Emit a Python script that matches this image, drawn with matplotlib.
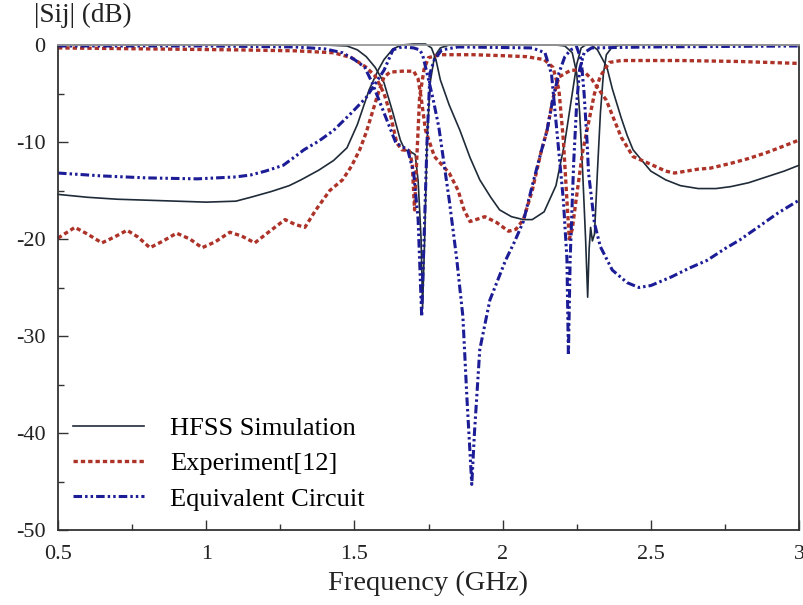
import matplotlib
matplotlib.use('Agg')
import matplotlib.pyplot as plt
from matplotlib.ticker import MultipleLocator

# curves: (frequency GHz, |Sij| dB)
hfss_s11_f = [0.50, 0.60, 0.70, 0.80, 0.90, 1.00, 1.10, 1.15, 1.22, 1.28, 1.32, 1.38, 1.43, 1.475,
              1.51, 1.55, 1.58, 1.60, 1.63, 1.66, 1.70, 1.74, 1.76, 1.775, 1.79, 1.82, 1.856, 1.89,
              1.923, 1.96, 1.99, 2.03, 2.07, 2.10, 2.14, 2.18, 2.21, 2.235, 2.25, 2.265, 2.28, 2.30,
              2.32, 2.352, 2.37, 2.40, 2.42, 2.44, 2.50, 2.55, 2.60, 2.66, 2.72, 2.77, 2.83, 2.89,
              2.95, 3.00]
hfss_s11_db = [-15.4, -15.7, -15.9, -16.0, -16.1, -16.2, -16.1, -15.7, -15.1, -14.5, -13.9, -12.9, -11.9, -10.6,
               -8.2, -4.6, -2.6, -1.5, -0.4, 0.0, 0.1, 0.1, -0.3, -1.5, -3.6, -6.2, -8.8, -11.6,
               -13.9, -15.7, -17.0, -17.7, -18.0, -18.0, -17.2, -14.5, -10.0, -5.0, -2.0, -0.3, 0.0, 0.0,
               -0.5, -2.3, -4.5, -7.5, -9.3, -10.8, -13.0, -13.9, -14.5, -14.8, -14.8, -14.6, -14.2, -13.6,
               -13.0, -12.4]

hfss_s21_f = [0.50, 1.00, 1.40, 1.475, 1.51, 1.54, 1.57, 1.60, 1.63, 1.655, 1.67, 1.69, 1.705, 1.715,
              1.725, 1.73, 1.737, 1.745, 1.755, 1.77, 1.79, 1.82, 2.00, 2.18, 2.21, 2.235, 2.25, 2.26,
              2.27, 2.28, 2.287, 2.292, 2.297, 2.303, 2.31, 2.32, 2.33, 2.34, 2.35, 2.37, 2.40, 3.00]
hfss_s21_db = [0.0, 0.0, 0.0, -0.1, -0.5, -1.2, -2.3, -3.9, -7.0, -9.8, -10.8, -11.0, -11.3, -14.0,
               -20.0, -27.0, -20.0, -10.0, -4.0, -1.2, -0.3, 0.0, 0.0, 0.0, -0.1, -0.8, -2.9, -7.0,
               -13.0, -20.0, -26.0, -21.0, -18.8, -20.2, -19.5, -13.0, -7.0, -3.0, -1.0, -0.2, 0.0, 0.0]

exp_s11_f = [0.50, 0.557, 0.60, 0.648, 0.69, 0.733, 0.77, 0.81, 0.855, 0.90, 0.945, 0.986, 1.03, 1.08,
             1.12, 1.164, 1.21, 1.266, 1.30, 1.333, 1.37, 1.417, 1.46, 1.49, 1.518, 1.54, 1.56, 1.58,
             1.60, 1.62, 1.66, 1.70, 1.715, 1.725, 1.74, 1.77, 1.82, 1.85, 1.87, 1.89, 1.94, 1.98,
             2.02, 2.045, 2.07, 2.10, 2.13, 2.15, 2.17, 2.19, 2.23, 2.26, 2.28, 2.30, 2.35, 2.40,
             2.44, 2.50, 2.55, 2.58, 2.62, 2.66, 2.70, 2.77, 2.83, 2.89, 2.95, 3.00]
exp_s11_db = [-19.9, -18.8, -19.5, -20.4, -19.8, -19.1, -19.8, -20.9, -20.2, -19.4, -20.0, -20.9, -20.3, -19.3,
              -19.7, -20.4, -19.3, -18.0, -18.5, -18.8, -17.0, -15.0, -13.9, -12.5, -10.8, -9.0, -7.0, -5.0,
              -3.3, -2.8, -2.7, -2.7, -3.5, -5.4, -8.8, -11.5, -13.2, -15.0, -17.0, -18.2, -17.7, -18.3,
              -19.2, -19.0, -18.0, -15.0, -11.0, -8.8, -5.5, -3.3, -2.6, -2.6, -2.9, -3.5, -5.7, -9.5,
              -11.5, -12.3, -13.0, -13.2, -13.0, -12.8, -12.7, -12.2, -11.7, -11.1, -10.4, -9.8]

exp_s21_f = [0.50, 0.80, 1.10, 1.30, 1.43, 1.49, 1.54, 1.57, 1.60, 1.62, 1.643, 1.66, 1.685, 1.695,
             1.703, 1.71, 1.72, 1.735, 1.75, 1.79, 1.90, 2.00, 2.08, 2.14, 2.17, 2.19, 2.205, 2.215,
             2.225, 2.235, 2.25, 2.27, 2.29, 2.31, 2.33, 2.36, 2.40, 2.60, 2.80, 3.00]
exp_s21_db = [-0.3, -0.4, -0.5, -0.6, -0.8, -1.3, -2.3, -3.2, -5.0, -7.0, -10.1, -10.8, -10.9, -12.2,
              -17.0, -12.0, -5.4, -2.5, -1.3, -1.0, -1.0, -1.1, -1.2, -1.5, -2.3, -4.6, -9.8, -15.0,
              -20.0, -19.0, -15.5, -11.0, -8.0, -5.0, -3.2, -1.8, -1.6, -1.6, -1.7, -1.9]

eq_s11_f = [0.50, 0.65, 0.80, 0.97, 1.10, 1.15, 1.20, 1.26, 1.30, 1.33, 1.38, 1.43, 1.49, 1.54,
            1.57, 1.60, 1.63, 1.66, 1.70, 1.72, 1.73, 1.745, 1.765, 1.785, 1.82, 1.845, 1.866, 1.88,
            1.89, 1.896, 1.905, 1.923, 1.957, 2.01, 2.04, 2.07, 2.10, 2.13, 2.15, 2.17, 2.19, 2.21,
            2.23, 2.25, 2.265, 2.275, 2.285, 2.29, 2.31, 2.33, 2.37, 2.42, 2.46, 2.50, 2.57, 2.63,
            2.69, 2.75, 2.80, 2.87, 2.93, 3.00]
eq_s11_db = [-13.2, -13.5, -13.7, -13.8, -13.6, -13.4, -13.0, -12.4, -11.5, -10.8, -9.9, -8.8, -7.0, -5.4,
             -4.0, -2.6, -0.5, -0.2, -0.3, -0.5, -1.0, -2.9, -5.5, -8.5, -16.0, -22.0, -28.0, -36.6,
             -42.0, -45.3, -40.0, -31.4, -26.3, -22.2, -20.3, -18.2, -14.5, -11.0, -8.8, -5.5, -2.9, -1.2,
             -0.5, -0.2, -1.5, -5.0, -10.0, -13.2, -18.4, -20.8, -23.2, -24.5, -25.0, -24.8, -23.9, -23.0,
             -22.2, -21.0, -20.1, -18.6, -17.3, -16.0]

eq_s21_f = [0.50, 1.00, 1.30, 1.40, 1.46, 1.50, 1.535, 1.56, 1.60, 1.64, 1.68, 1.70, 1.715, 1.727,
            1.735, 1.745, 1.755, 1.77, 1.795, 1.85, 2.10, 2.143, 2.165, 2.186, 2.205, 2.217, 2.222, 2.228,
            2.24, 2.25, 2.26, 2.275, 2.30, 2.50, 3.00]
eq_s21_db = [-0.1, -0.1, -0.2, -0.4, -0.8, -1.5, -2.3, -3.9, -7.0, -10.1, -10.8, -13.2, -18.0, -28.0,
             -20.0, -10.0, -2.9, -1.5, -0.5, -0.2, -0.3, -0.8, -3.0, -9.8, -16.0, -22.0, -32.0, -22.0,
             -12.0, -6.0, -2.5, -0.8, -0.3, -0.2, -0.1]

x_ticks = [0.5, 1, 1.5, 2, 2.5, 3]
x_labels = ['0.5', '1', '1.5', '2', '2.5', '3']
y_ticks = [0, -10, -20, -30, -40, -50]
y_labels = ['0', '-10', '-20', '-30', '-40', '-50']

plt.rcParams['font.family'] = ['Liberation Serif', 'DejaVu Serif']
plt.rcParams['axes.unicode_minus'] = False

solid_col = '#1f2b38'
exp_col = '#ad3329'
eq_col = '#1c1c96'
exp_style = (0, (1.3, 0.9))
eq_style = (0, (2.8, 1.0, 0.8, 1.0, 0.8, 1.0))

fig = plt.figure(figsize=(8.04, 6.05), dpi=100)
ax = fig.add_axes([58 / 804, 75 / 605, 741 / 804, 485 / 605])

ax.plot(hfss_s11_f, hfss_s11_db, color=solid_col, lw=1.2, clip_on=False, label='HFSS Simulation')
ax.plot(hfss_s21_f, hfss_s21_db, color=solid_col, lw=1.2, clip_on=False)
ax.plot(exp_s11_f, exp_s11_db, color=exp_col, lw=2.4, ls=exp_style, clip_on=False, label='Experiment[12]')
ax.plot(exp_s21_f, exp_s21_db, color=exp_col, lw=2.4, ls=exp_style, clip_on=False)
ax.plot(eq_s11_f, eq_s11_db, color=eq_col, lw=2.2, ls=eq_style, clip_on=False, label='Equivalent Circuit')
ax.plot(eq_s21_f, eq_s21_db, color=eq_col, lw=2.2, ls=eq_style, clip_on=False)

ax.set_xlim(0.5, 3)
ax.set_ylim(-50, 0)
ax.set_xticks(x_ticks)
ax.set_xticklabels(x_labels)
ax.set_yticks(y_ticks)
ax.set_yticklabels(y_labels)
ax.xaxis.set_minor_locator(MultipleLocator(0.25))
ax.yaxis.set_minor_locator(MultipleLocator(5))
ax.tick_params(which='both', direction='in', top=False, right=False, colors='#333333', labelcolor='#222222')
ax.tick_params(which='major', length=7, width=1.0, labelsize=16)
ax.tick_params(axis='x', which='major', pad=11)
ax.tick_params(axis='y', which='major', pad=9)
ax.tick_params(which='minor', length=4, width=1.0)

for side in ['left', 'bottom', 'right']:
    ax.spines[side].set_color('#333333')
    ax.spines[side].set_linewidth(1.3)
ax.spines['top'].set_color('#999999')
ax.spines['top'].set_linewidth(1.3)

ax.set_xlabel('Frequency (GHz)', fontsize=20.5, labelpad=5, color='#222222')
fig.text(34 / 804, 0.995, '|Sij| (dB)', fontsize=19.5, va='top', ha='left', color='#222222')

ax.legend(loc='lower left', bbox_to_anchor=(0.02, 0.04), frameon=False, fontsize=19,
          handlelength=2.7, handletextpad=1.0, labelspacing=0.45, borderpad=0, borderaxespad=0)

fig.savefig('out.png', dpi=100)
